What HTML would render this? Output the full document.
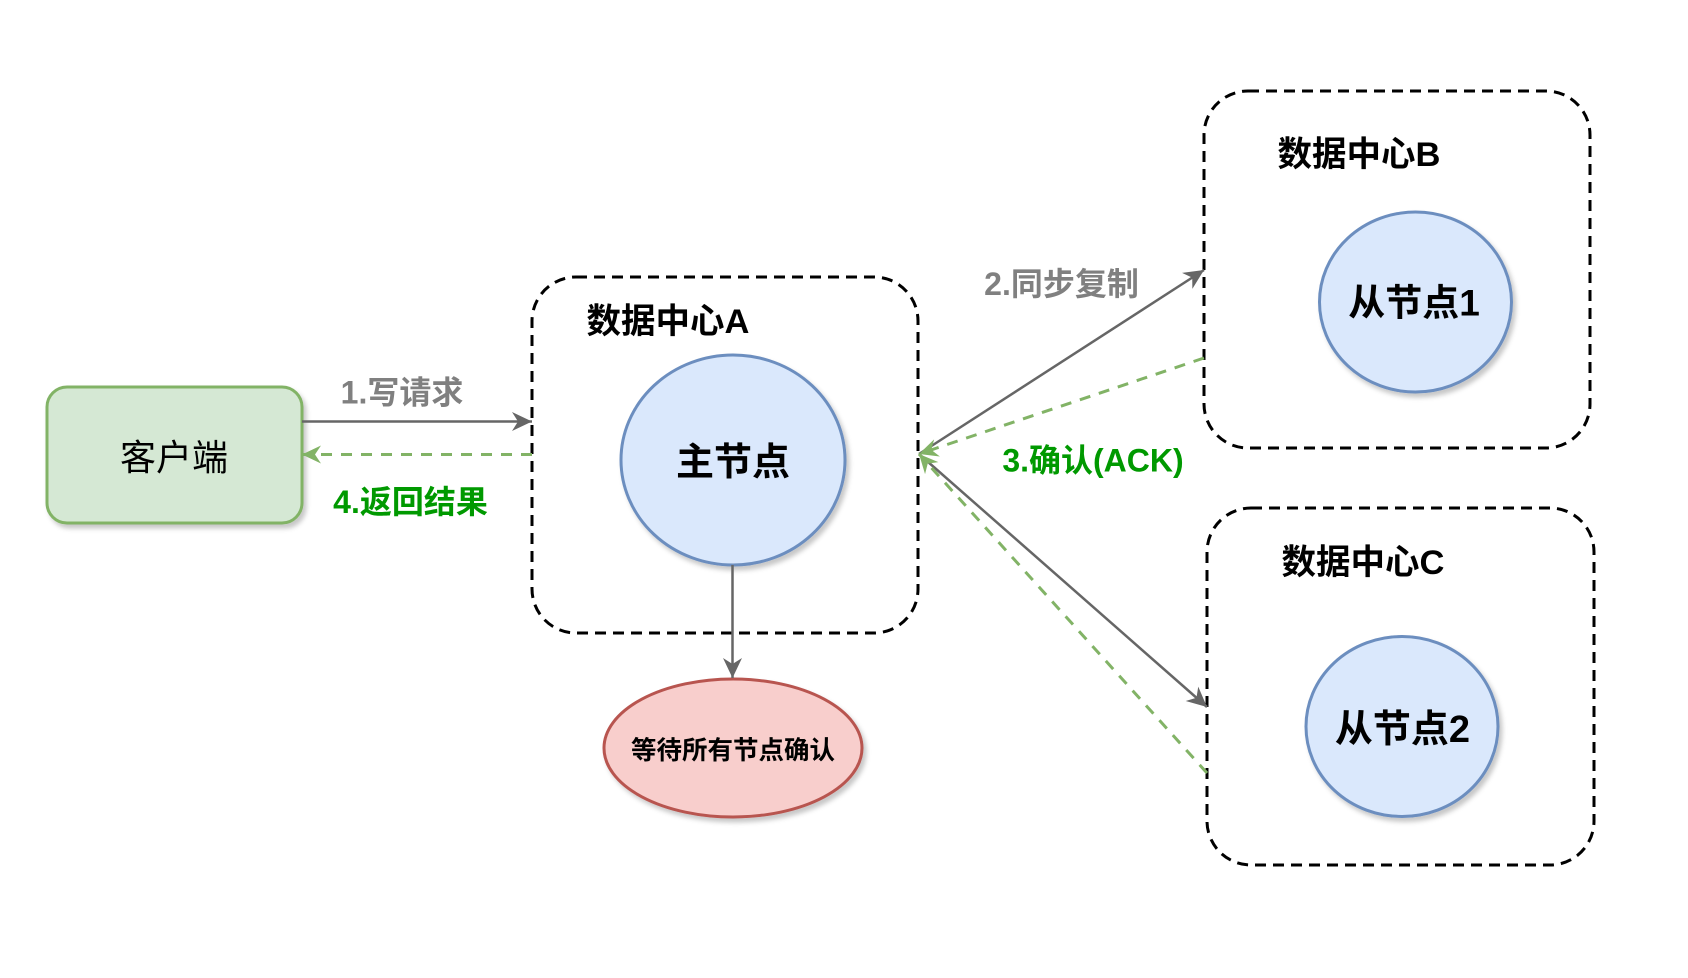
<!DOCTYPE html>
<html>
<head>
<meta charset="utf-8">
<style>
html,body{margin:0;padding:0;background:#fff;}
svg{display:block;}
text{font-family:"Liberation Sans","Noto Sans CJK SC",sans-serif;}
</style>
</head>
<body>
<svg width="1688" height="978" viewBox="0 0 1688 978" xmlns="http://www.w3.org/2000/svg">
<defs>
  <filter id="sh" x="-20%" y="-20%" width="140%" height="140%">
    <feDropShadow dx="3" dy="4" stdDeviation="2.5" flood-color="#000" flood-opacity="0.22"/>
  </filter>
  <marker id="ag" markerWidth="26" markerHeight="26" viewBox="-22 -13 26 26" refX="0" refY="0" orient="auto" markerUnits="userSpaceOnUse">
    <path d="M0,0 L-20,-9.5 L-14,0 L-20,9.5 Z" fill="#666666"/>
  </marker>
  <marker id="agr" markerWidth="26" markerHeight="26" viewBox="-22 -13 26 26" refX="0" refY="0" orient="auto" markerUnits="userSpaceOnUse">
    <path d="M0,0 L-19,-9 L-13,0 L-19,9 Z" fill="#82b366"/>
  </marker>
</defs>

<!-- dashed data-center boxes -->
<rect x="532" y="277" width="386" height="356" rx="44" ry="44" fill="none" stroke="#000" stroke-width="3" stroke-dasharray="11 7"/>
<rect x="1204" y="91" width="386" height="357" rx="44" ry="44" fill="none" stroke="#000" stroke-width="3" stroke-dasharray="11 7"/>
<rect x="1207" y="508" width="387" height="357" rx="44" ry="44" fill="none" stroke="#000" stroke-width="3" stroke-dasharray="11 7"/>

<!-- client -->
<rect x="47" y="387" width="255" height="136" rx="20" ry="20" fill="#d5e8d4" stroke="#82b366" stroke-width="3" filter="url(#sh)"/>
<text x="174" y="470" font-size="36" text-anchor="middle" fill="#000">客户端</text>

<!-- nodes -->
<ellipse cx="733" cy="460" rx="112" ry="105" fill="#dae8fc" stroke="#6c8ebf" stroke-width="3" filter="url(#sh)"/>
<text x="733" y="475" font-size="38" font-weight="bold" text-anchor="middle" fill="#000">主节点</text>

<ellipse cx="1415.5" cy="302" rx="96" ry="90" fill="#dae8fc" stroke="#6c8ebf" stroke-width="3" filter="url(#sh)"/>
<text x="1414" y="315.5" font-size="37" font-weight="bold" text-anchor="middle" fill="#000">从节点1</text>

<ellipse cx="1402" cy="726.5" rx="96" ry="90" fill="#dae8fc" stroke="#6c8ebf" stroke-width="3" filter="url(#sh)"/>
<text x="1402.5" y="742" font-size="38" font-weight="bold" text-anchor="middle" fill="#000">从节点2</text>

<ellipse cx="733" cy="748" rx="129" ry="69" fill="#f8cecc" stroke="#b85450" stroke-width="3" filter="url(#sh)"/>
<text x="733" y="759" font-size="25.5" font-weight="bold" text-anchor="middle" fill="#000">等待所有节点确认</text>

<!-- box titles -->
<text x="668" y="333" font-size="34.5" font-weight="bold" text-anchor="middle" fill="#000">数据中心A</text>
<text x="1359" y="166" font-size="34.5" font-weight="bold" text-anchor="middle" fill="#000">数据中心B</text>
<text x="1363" y="574" font-size="34.5" font-weight="bold" text-anchor="middle" fill="#000">数据中心C</text>

<!-- connectors -->
<line x1="302" y1="421.5" x2="532" y2="421.5" stroke="#666666" stroke-width="2.5" marker-end="url(#ag)"/>
<line x1="532" y1="454.5" x2="302" y2="454.5" stroke="#82b366" stroke-width="3" stroke-dasharray="11 9" marker-end="url(#agr)"/>
<line x1="732.5" y1="565" x2="732.5" y2="678" stroke="#666666" stroke-width="2.5" marker-end="url(#ag)"/>

<line x1="919" y1="454" x2="1204" y2="270" stroke="#666666" stroke-width="2.5" marker-end="url(#ag)"/>
<line x1="1204" y1="358" x2="919" y2="454" stroke="#82b366" stroke-width="3" stroke-dasharray="11 9" marker-end="url(#agr)"/>
<line x1="919" y1="454" x2="1207" y2="707" stroke="#666666" stroke-width="2.5" marker-end="url(#ag)"/>
<line x1="1207" y1="773" x2="919" y2="454" stroke="#82b366" stroke-width="3" stroke-dasharray="11 9" marker-end="url(#agr)"/>

<!-- labels -->
<text x="402" y="403.5" font-size="32" font-weight="bold" text-anchor="middle" fill="#808080">1.写请求</text>
<text x="410.5" y="513" font-size="32" font-weight="bold" text-anchor="middle" fill="#009900">4.返回结果</text>
<text x="1061.5" y="295" font-size="32" font-weight="bold" text-anchor="middle" fill="#808080">2.同步复制</text>
<text x="1093" y="471.5" font-size="32" font-weight="bold" text-anchor="middle" fill="#009900">3.确认(ACK)</text>
</svg>
</body>
</html>
